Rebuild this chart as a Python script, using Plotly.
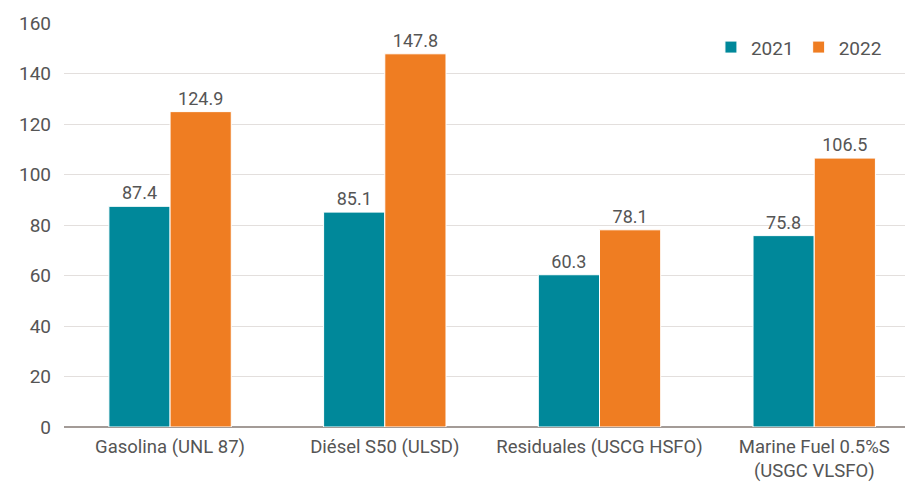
import plotly.graph_objects as go

categories = ["Gasolina (UNL 87)", "Diésel S50 (ULSD)", "Residuales (USCG HSFO)", "Marine Fuel 0.5%S<br>(USGC VLSFO)"]
values_2021 = [87.4, 85.1, 60.3, 75.8]
values_2022 = [124.9, 147.8, 78.1, 106.5]
y_ticks = [0, 20, 40, 60, 80, 100, 120, 140, 160]

FONT = "Roboto, Open Sans, sans-serif"
TXT = "#555555"

fig = go.Figure()
fig.add_trace(go.Bar(
    name="2021", x=categories, y=values_2021,
    marker=dict(color="#00889a", line=dict(color="white", width=1)),
    text=[f"{v:.1f}" for v in values_2021], textposition="outside",
    textfont=dict(size=18, color=TXT, family=FONT), cliponaxis=False,
))
fig.add_trace(go.Bar(
    name="2022", x=categories, y=values_2022,
    marker=dict(color="#ef7d22", line=dict(color="white", width=1)),
    text=[f"{v:.1f}" for v in values_2022], textposition="outside",
    textfont=dict(size=18, color=TXT, family=FONT), cliponaxis=False,
))

fig.update_layout(
    width=913, height=482,
    margin=dict(l=56, r=8, t=15, b=63, autoexpand=False),
    paper_bgcolor="white", plot_bgcolor="white",
    barmode="group", bargap=0.43, bargroupgap=0,
    font=dict(family=FONT, size=18, color=TXT),
    showlegend=True,
    legend=dict(orientation="h", x=0.762, y=0.94, xanchor="left", yanchor="middle",
                font=dict(size=19, color=TXT), traceorder="normal"),
    xaxis=dict(range=[-0.494, 3.46], showgrid=False, ticks="", showline=False,
               automargin=False, ticklabelstandoff=6, tickfont=dict(size=18.5, color=TXT)),
    yaxis=dict(range=[0, 160], tickvals=y_ticks, showgrid=True, gridcolor="#e3dfdd",
               gridwidth=1, zeroline=True, zerolinecolor="#a39b97", zerolinewidth=1.5,
               automargin=False, ticks="", ticklabelstandoff=12,
               tickfont=dict(size=19, color=TXT), showline=False),
)

fig.write_html("out.html")
